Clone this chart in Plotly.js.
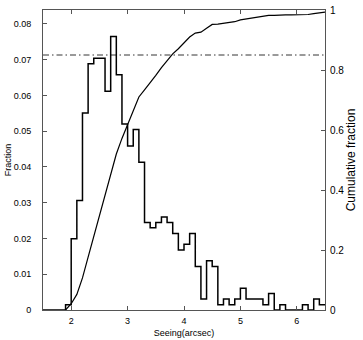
<!DOCTYPE html>
<html>
<head>
<meta charset="utf-8">
<script src="https://cdn.plot.ly/plotly-3.0.1.min.js"></script>
<style>
  html, body { margin: 0; padding: 0; background: #fff; }
  #chart { width: 363px; height: 340px; }
</style>
</head>
<body>
<div id="chart"></div>
<script>
// Histogram of seeing, bins 0.1 arcsec wide (left edges)
const binStart = [1.5, 1.6, 1.7, 1.8, 1.9, 2.0, 2.1, 2.2, 2.3, 2.4,
                  2.5, 2.6, 2.7, 2.8, 2.9, 3.0, 3.1, 3.2, 3.3, 3.4,
                  3.5, 3.6, 3.7, 3.8, 3.9, 4.0, 4.1, 4.2, 4.3, 4.4,
                  4.5, 4.6, 4.7, 4.8, 4.9, 5.0, 5.1, 5.2, 5.3, 5.4,
                  5.5, 5.6, 5.7, 5.8, 5.9, 6.0, 6.1, 6.2, 6.3, 6.4];
const lastEdge = 6.5;
const fraction = [0, 0, 0, 0, 0.0015, 0.0199, 0.0306, 0.0551, 0.0689, 0.0704,
                  0.0704, 0.0612, 0.0765, 0.0658, 0.0520, 0.0459, 0.0505, 0.0413, 0.0245, 0.0230,
                  0.0245, 0.0260, 0.0245, 0.0214, 0.0168, 0.0184, 0.0214, 0.0122, 0.0031, 0.0138,
                  0.0122, 0.0015, 0.0031, 0.0015, 0.0031, 0.0061, 0.0031, 0.0031, 0.0031, 0.0015,
                  0.0046, 0, 0.0015, 0, 0, 0, 0.0015, 0, 0.0031, 0.0015];

// Cumulative fraction curve
const cumX = [1.9, 2.0, 2.1, 2.2, 2.3, 2.4, 2.5, 2.6, 2.7, 2.8,
              2.9, 3.0, 3.1, 3.2, 3.3, 3.4, 3.5, 3.6, 3.7, 3.8,
              3.9, 4.0, 4.1, 4.2, 4.3, 4.4, 4.5, 4.6, 4.7, 4.8,
              4.9, 5.0, 5.1, 5.2, 5.3, 5.4, 5.5, 5.6, 5.7, 5.8,
              5.9, 6.0, 6.1, 6.2, 6.3, 6.4, 6.5];
const cumY = [0, 0.021, 0.052, 0.107, 0.176, 0.246, 0.317, 0.378, 0.454, 0.520,
              0.572, 0.618, 0.669, 0.710, 0.734, 0.757, 0.782, 0.808, 0.832, 0.854,
              0.871, 0.889, 0.910, 0.923, 0.926, 0.939, 0.952, 0.953, 0.956, 0.958,
              0.961, 0.967, 0.970, 0.973, 0.976, 0.978, 0.982, 0.982, 0.984, 0.984,
              0.984, 0.984, 0.985, 0.985, 0.988, 0.990, 0.993];

const threshold = 0.85;   // dash-dot level on the cumulative axis
const xTicks = [2, 3, 4, 5, 6];

const font = { family: "Liberation Sans, Arial, sans-serif", size: 9, color: "#000" };
const rightFont = { family: font.family, size: 10, color: "#000" };

const hist = {
  x: binStart.concat([lastEdge]),
  y: fraction.concat([fraction[fraction.length - 1]]),
  type: "scatter",
  mode: "lines",
  line: { shape: "hv", color: "#000", width: 1.5 },
  yaxis: "y",
  hoverinfo: "skip"
};

const cum = {
  x: cumX,
  y: cumY,
  type: "scatter",
  mode: "lines",
  line: { color: "#000", width: 1.2 },
  yaxis: "y2",
  hoverinfo: "skip"
};

const layout = {
  width: 363,
  height: 340,
  margin: { l: 43, r: 38, t: 10, b: 30 },
  paper_bgcolor: "#fff",
  plot_bgcolor: "#fff",
  showlegend: false,
  font: font,
  xaxis: {
    range: [1.5, lastEdge],
    tickvals: xTicks,
    ticks: "inside",
    ticklen: 4,
    tickcolor: "#555",
    showline: true,
    linecolor: "#555",
    linewidth: 1,
    mirror: "ticks",
    showgrid: false,
    zeroline: false,
    ticklabelstandoff: 2,
    title: { text: "Seeing(arcsec)", font: font, standoff: 4 }
  },
  yaxis: {
    range: [0, 0.0839],
    dtick: 0.01,
    ticks: "inside",
    ticklen: 4,
    tickcolor: "#555",
    showline: true,
    linecolor: "#555",
    linewidth: 1,
    showgrid: false,
    zeroline: false,
    ticklabelstandoff: 9,
    title: { text: "Fraction", font: font, standoff: 0 }
  },
  yaxis2: {
    range: [0, 1],
    dtick: 0.2,
    overlaying: "y",
    side: "right",
    ticks: "inside",
    ticklen: 4,
    tickcolor: "#555",
    tickfont: rightFont,
    showline: true,
    linecolor: "#555",
    linewidth: 1,
    showgrid: false,
    zeroline: false,
    ticklabelstandoff: 2,
    title: { text: "Cumulative fraction", font: { family: font.family, size: 12, color: "#000" }, standoff: 3 }
  },
  shapes: [{
    type: "line",
    xref: "paper", x0: 0, x1: 1,
    yref: "y2", y0: threshold, y1: threshold,
    line: { color: "#000", width: 0.8, dash: "6px,3px,1.5px,3px" }
  }]
};

Plotly.newPlot("chart", [hist, cum], layout, { displayModeBar: false, staticPlot: true });
</script>
</body>
</html>
